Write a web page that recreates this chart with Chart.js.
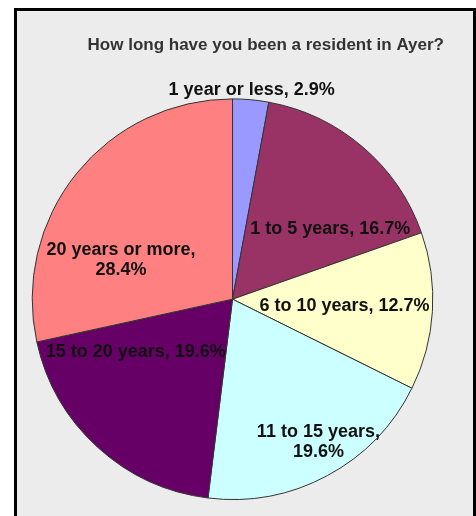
<!DOCTYPE html>
<html>
<head>
<meta charset="utf-8">
<script src="https://cdn.jsdelivr.net/npm/chart.js@4"></script>
<style>
    html, body {
        margin: 0;
        background: #ffffff;
        overflow: hidden;
    }
    #frame {
        position: absolute;
        left: 14px;
        top: 8px;
        width: 456px;
        height: 700px;
        border-left: 3px solid #000000;
        border-top: 3px solid #000000;
        border-right: 3px solid #000000;
        background: #ececec;
    }
    #wrap {
        position: absolute;
        left: 0;
        top: 0;
        width: 456px;
        height: 495px;
    }
</style>
</head>
<body>
<div id="frame">
    <div id="wrap"><canvas id="pieChart"></canvas></div>
</div>
<script>
const categories = [
    "1 year or less",
    "1 to 5 years",
    "6 to 10 years",
    "11 to 15 years",
    "15 to 20 years",
    "20 years or more",
];
const shares = [2.9, 16.7, 12.7, 19.6, 19.6, 28.4];
const sliceColors = ["#9999ff", "#993366", "#ffffcc", "#ccffff", "#660066", "#ff8080"];

// where each label sits: fraction of the radius, and how far along the slice
const labelRadius = [1.05, 0.6, 0.56, 0.83, 0.55, 0.59];
const labelAlong = [0.5, 0.73, 0.5, 0.46, 0.77, 0.31];
const labelTwoLines = [false, false, false, true, false, true];

const sliceLabels = {
    id: "sliceLabels",
    afterDatasetsDraw(chart) {
        const ctx = chart.ctx;
        const arcs = chart.getDatasetMeta(0).data;
        ctx.save();
        ctx.font = "bold 18px 'Liberation Sans', Arial, sans-serif";
        ctx.fillStyle = "#111111";
        ctx.textAlign = "center";
        ctx.textBaseline = "middle";
        arcs.forEach((arc, i) => {
            const { x, y, startAngle, endAngle, outerRadius } = arc.getProps(
                ["x", "y", "startAngle", "endAngle", "outerRadius"],
                true
            );
            const angle = startAngle + (endAngle - startAngle) * labelAlong[i];
            const r = outerRadius * labelRadius[i];
            const lx = x + Math.cos(angle) * r;
            const ly = y + Math.sin(angle) * r;
            const lines = labelTwoLines[i]
                ? [`${categories[i]},`, `${shares[i]}%`]
                : [`${categories[i]}, ${shares[i]}%`];
            const lineHeight = 20;
            lines.forEach((line, k) => {
                const off = (k - (lines.length - 1) / 2) * lineHeight;
                ctx.fillText(line, lx, ly + off);
            });
        });
        ctx.restore();
    },
};

new Chart(document.getElementById("pieChart"), {
    type: "pie",
    data: {
        labels: categories,
        datasets: [
            {
                data: shares,
                backgroundColor: sliceColors,
                borderColor: "#333333",
                borderWidth: 1,
            },
        ],
    },
    options: {
        responsive: true,
        maintainAspectRatio: false,
        animation: false,
        layout: {
            padding: { left: 4, right: 29, top: 0, bottom: 6 },
        },
        plugins: {
            legend: { display: false },
            tooltip: { enabled: false },
            title: {
                display: true,
                text: "How long have you been a resident in Ayer?",
                align: "end",
                color: "#333333",
                font: {
                    family: "'Liberation Sans', Arial, sans-serif",
                    size: 17,
                    weight: "bold",
                },
                padding: { top: 24, bottom: 43 },
            },
        },
    },
    plugins: [sliceLabels],
});
</script>
</body>
</html>
